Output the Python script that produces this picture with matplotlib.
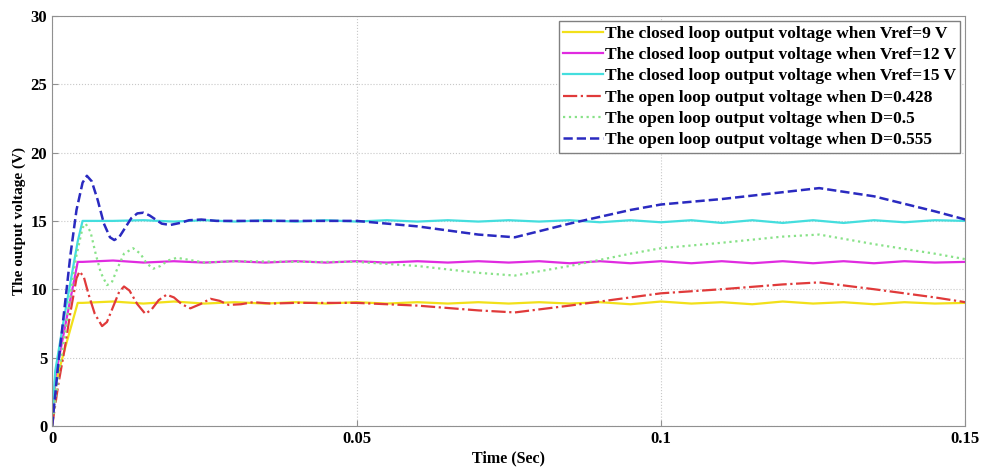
import matplotlib
matplotlib.use('Agg')
import matplotlib.pyplot as plt

plt.rcParams['font.family'] = ['Liberation Serif', 'DejaVu Serif']
plt.rcParams['font.weight'] = 'bold'

# closed loop (Vref = 9, 12, 15 V)
t_cl = [0, 0.0005, 0.002, 0.0042, 0.005, 0.01, 0.015, 0.02, 0.025, 0.03, 0.035, 0.04, 0.045,
        0.05, 0.055, 0.06, 0.065, 0.07, 0.075, 0.08, 0.085, 0.09, 0.095, 0.1, 0.105, 0.11,
        0.115, 0.12, 0.125, 0.13, 0.135, 0.14, 0.145, 0.15]
v9 = [0, 3.0, 5.5, 9.0, 9.0, 9.1, 8.95, 9.1, 8.95, 9.05, 8.95, 9.05, 8.95, 9.05, 8.95, 9.05,
      8.95, 9.05, 8.95, 9.05, 8.95, 9.05, 8.9, 9.1, 8.95, 9.05, 8.9, 9.1, 8.95, 9.05, 8.9,
      9.05, 8.95, 9.0]
v12 = [0, 3.5, 7.0, 12.0, 12.0, 12.1, 11.95, 12.05, 11.95, 12.05, 11.95, 12.05, 11.95,
       12.05, 11.95, 12.05, 11.95, 12.05, 11.95, 12.05, 11.9, 12.05, 11.9, 12.05, 11.9,
       12.05, 11.9, 12.05, 11.9, 12.05, 11.9, 12.05, 11.95, 12.0]
v15 = [0, 4.0, 8.0, 13.5, 15.0, 15.0, 15.05, 14.95, 15.05, 14.95, 15.05, 14.95, 15.05,
       14.95, 15.05, 14.95, 15.05, 14.95, 15.05, 14.95, 15.05, 14.9, 15.05, 14.9, 15.05,
       14.85, 15.05, 14.85, 15.05, 14.85, 15.05, 14.9, 15.05, 15.0]

# open loop D = 0.428
t_d1 = [0, 0.001, 0.002, 0.003, 0.004, 0.0045, 0.0052, 0.006, 0.007, 0.0082, 0.009, 0.010,
        0.011, 0.0118, 0.0127, 0.014, 0.0153, 0.0163, 0.0175, 0.0188, 0.020, 0.0213, 0.0227,
        0.0243, 0.026, 0.0275, 0.029, 0.031, 0.033, 0.036, 0.04, 0.05, 0.06, 0.07, 0.076,
        0.085, 0.095, 0.1, 0.11, 0.12, 0.126, 0.135, 0.145, 0.15]
v_d1 = [0, 3.0, 5.5, 8.3, 10.8, 11.3, 10.9, 9.6, 8.2, 7.3, 7.6, 8.7, 9.8, 10.2, 9.9, 8.9,
        8.2, 8.5, 9.2, 9.6, 9.4, 8.9, 8.6, 8.9, 9.3, 9.15, 8.85, 8.9, 9.05, 8.95, 9.0, 9.0,
        8.8, 8.45, 8.3, 8.8, 9.4, 9.7, 10.0, 10.35, 10.5, 10.0, 9.4, 9.05]

# open loop D = 0.5
t_d2 = [0, 0.001, 0.002, 0.003, 0.004, 0.005, 0.0055, 0.0063, 0.0072, 0.008, 0.009, 0.0098,
        0.0107, 0.0118, 0.0133, 0.0145, 0.0155, 0.0166, 0.0178, 0.019, 0.0205, 0.0225,
        0.025, 0.03, 0.04, 0.05, 0.06, 0.07, 0.076, 0.085, 0.095, 0.1, 0.11, 0.12, 0.126,
        0.135, 0.145, 0.15]
v_d2 = [0, 3.5, 6.5, 9.5, 12.5, 14.5, 14.8, 14.2, 12.5, 11.2, 10.3, 10.5, 11.5, 12.6, 13.0,
        12.6, 11.9, 11.5, 11.7, 12.1, 12.3, 12.15, 11.95, 12.05, 12.0, 12.0, 11.7, 11.2,
        11.0, 11.7, 12.6, 13.0, 13.4, 13.85, 14.0, 13.3, 12.6, 12.2]

# open loop D = 0.555
t_d3 = [0, 0.001, 0.002, 0.003, 0.004, 0.005, 0.0057, 0.0065, 0.0075, 0.0085, 0.0095,
        0.0102, 0.011, 0.012, 0.013, 0.014, 0.015, 0.016, 0.017, 0.018, 0.0194, 0.021,
        0.0225, 0.0245, 0.027, 0.03, 0.04, 0.05, 0.06, 0.07, 0.076, 0.085, 0.095, 0.1, 0.11,
        0.12, 0.126, 0.135, 0.145, 0.15]
v_d3 = [0, 4.5, 8.5, 12.5, 15.8, 17.8, 18.3, 17.9, 16.5, 14.8, 13.8, 13.6, 13.8, 14.5, 15.2,
        15.55, 15.6, 15.4, 15.1, 14.8, 14.7, 14.85, 15.05, 15.1, 15.0, 15.0, 15.0, 15.0,
        14.6, 14.0, 13.8, 14.8, 15.8, 16.2, 16.6, 17.1, 17.4, 16.8, 15.7, 15.1]

labels = ['The closed loop output voltage when Vref=9 V',
          'The closed loop output voltage when Vref=12 V',
          'The closed loop output voltage when Vref=15 V',
          'The open loop output voltage when D=0.428',
          'The open loop output voltage when D=0.5',
          'The open loop output voltage when D=0.555']

fig = plt.figure(figsize=(9.84, 4.69), dpi=100)
ax = fig.add_axes([0.053, 0.092, 0.928, 0.874])

ax.plot(t_cl, v9, color='#f2e01a', lw=1.6, label=labels[0])
ax.plot(t_cl, v12, color='#e02be0', lw=1.6, label=labels[1])
ax.plot(t_cl, v15, color='#44dede', lw=1.6, label=labels[2])
ax.plot(t_d1, v_d1, color='#e03a3a', lw=1.6, ls='-.', label=labels[3])
ax.plot(t_d2, v_d2, color='#88e288', lw=1.6, ls=':', label=labels[4])
ax.plot(t_d3, v_d3, color='#2a2ac0', lw=1.8, ls='--', label=labels[5])

ax.set_xlim(0, 0.15)
ax.set_ylim(0, 30)
ax.set_xticks([0, 0.05, 0.1, 0.15])
ax.set_xticklabels(['0', '0.05', '0.1', '0.15'])
ax.set_yticks([0, 5, 10, 15, 20, 25, 30])
ax.grid(True, ls=':', color='#c8c8c8', lw=0.8)
for s in ax.spines.values():
    s.set_color('#909090')
ax.tick_params(labelsize=12, color='#909090', direction='in', length=4)
for lab in ax.get_xticklabels() + ax.get_yticklabels():
    lab.set_fontweight('bold')

ax.set_xlabel('Time (Sec)', fontsize=11.5, fontweight='bold', labelpad=3)
ax.set_ylabel('The output voltage (V)', fontsize=11, fontweight='bold', labelpad=3)

leg = ax.legend(loc='upper right', handlelength=2.3, handletextpad=0.1,
                labelspacing=0.3, borderpad=0.25, borderaxespad=0.3,
                fancybox=False, framealpha=1, prop={'weight': 'bold', 'size': 12.5})
leg.get_frame().set_edgecolor('#808080')

plt.savefig('out.png', dpi=100)
